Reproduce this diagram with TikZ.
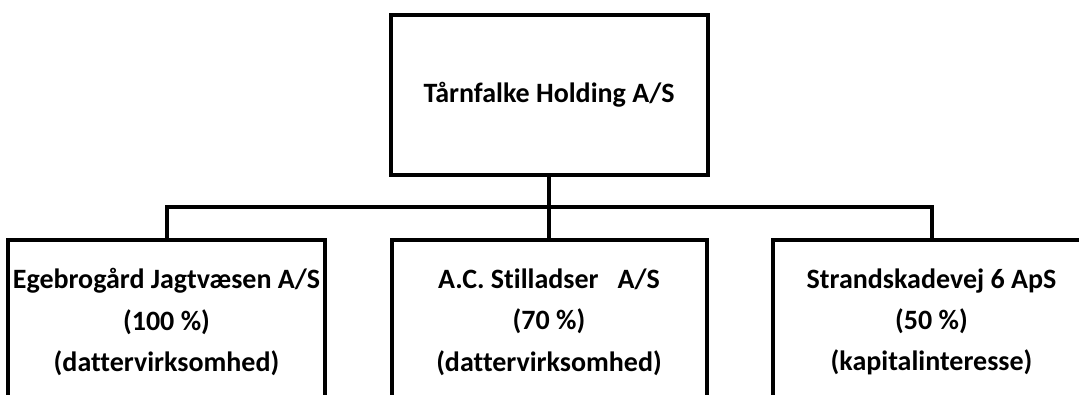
\documentclass[tikz,border=0pt]{standalone}
\usepackage{fontspec}
\setmainfont[Ligatures=NoCommon]{Carlito}
\begin{document}
\begin{tikzpicture}[x=0.75pt,y=-0.75pt,
  box/.style={draw=black,line width=3pt,fill=white,inner sep=0pt,align=center,
    font=\fontsize{21pt}{31pt}\selectfont\bfseries},
  conn/.style={draw=black,line width=3pt,line join=miter}]
\path[use as bounding box,clip] (0,0) rectangle (1079,394);
\node[box,minimum width=237.75pt,minimum height=120pt] (top) at (549,95) {Tårnfalke Holding A/S};
\coordinate (bus) at (549,207);
\node[box,minimum width=237.75pt,minimum height=123pt] (ege) at (166.5,322)
  {Egebrogård Jagtvæsen A/S\\(100 \%)\\(dattervirksomhed)};
\node[box,minimum width=236.25pt,minimum height=123pt] (ac) at (549,322)
  {A.C. Stilladser~~~A/S\\(70 \%)\\(dattervirksomhed)};
\node[box,minimum width=237.75pt,minimum height=123pt] (strand) at (931.5,322)
  {Strandskadevej 6 ApS\\(50 \%)\\(kapitalinteresse)};
\draw[conn] (top.south) -- (bus);
\draw[conn] (bus) -| (ege.north);
\draw[conn] (bus) -| (strand.north);
\draw[conn] (bus) -- (ac.north);
\end{tikzpicture}
\end{document}
